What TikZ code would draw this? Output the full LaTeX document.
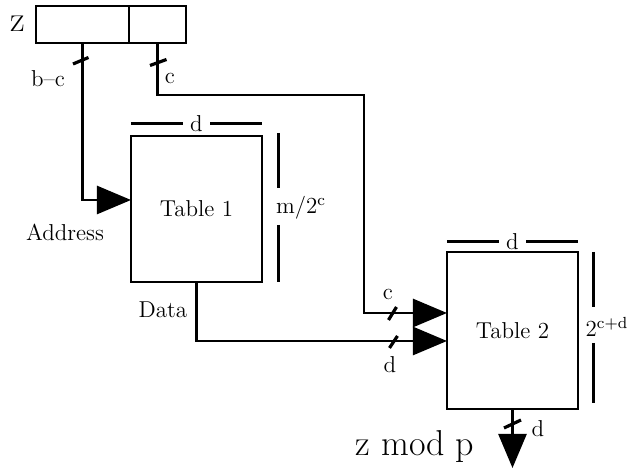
\documentclass[tikz,border=0pt]{standalone}
\usetikzlibrary{arrows.meta,calc}
\newcommand\lbltxt{\fontsize{11.5}{13}\selectfont}
\newcommand\bigtxt{\fontsize{18}{20}\selectfont}
\tikzset{
  box/.style={draw, line width=1.3pt, inner sep=0pt, outer sep=0pt, font=\lbltxt},
  wire/.style={line width=1.3pt},
  tri/.style={-{Triangle[length=17pt,width=14pt]}},
  slashmark/.style={line width=1.6pt},
  dimbar/.style={line width=1.5pt},
  lbl/.style={font=\lbltxt, inner sep=1pt},
  bigl/.style={font=\bigtxt, inner sep=1pt},
  gaplbl/.style={font=\lbltxt, fill=white, inner xsep=3.5pt, inner ysep=0pt},
}
\begin{document}
\begin{tikzpicture}[x=0.5pt,y=-0.5pt]
\useasboundingbox (0,0) rectangle (634,474);
% register z
\node[box, minimum width=46.5pt, minimum height=18.5pt] (zl) at (82.5,24.5) {};
\node[box, minimum width=28.5pt, minimum height=18.5pt] (zr) at (157.5,24.5) {};
\node[bigl] (zlab) at (18,24) {z};
% tables
\node[box, minimum width=65.5pt, minimum height=73pt] (t1) at (196.5,209) {Table 1};
\node[box, minimum width=65.5pt, minimum height=78.5pt] (t2) at (512.5,330.5) {Table 2};
\coordinate (out) at (512.5,468);
% wires
\draw[wire, tri] (zl.south) |- (t1.west |- 0,200);
\draw[wire, tri] (zr.south) |- (364,95) |- (t2.west |- 0,313);
\draw[wire, tri] (t1.south) |- (t2.west |- 0,341);
\draw[wire, tri] (t2.south) -- (out);
% slash marks
\draw[slashmark] (73,64) -- (88.5,57.5);
\draw[slashmark] (150,65.5) -- (166.5,59.5);
\draw[slashmark] (388.5,320) -- (396.5,307);
\draw[slashmark] (389.5,348) -- (397.5,336);
\draw[slashmark] (504,428) -- (521,420);
% dimension bars table 1
\draw[dimbar] ($(t1.north west)+(0,-12)$) -- node[gaplbl]{d} ($(t1.north east)+(0,-12)$);
\draw[dimbar] (279,133) -- (279,188);
\draw[dimbar] (279,225) -- (279,282);
\node[lbl] (t1h) at (301,208) {m/2\textsuperscript{c}};
% dimension bars table 2
\draw[dimbar] ($(t2.north west)+(0,-10)$) -- node[gaplbl]{d} ($(t2.north east)+(0,-10)$);
\draw[dimbar] (594,252) -- (594,307);
\draw[dimbar] (594,343) -- (594,403);
\node[lbl] (t2h) at (607,327) {2\textsuperscript{c+d}};
% labels
\node[lbl] (lbc) at (48,79) {b--c};
\node[lbl] (lc1) at (170,78) {c};
\node[lbl] (laddr) at (65,232) {Address};
\node[lbl] (ldata) at (163,310) {Data};
\node[lbl] (lc2) at (388,294) {c};
\node[lbl] (ld2) at (390,365) {d};
\node[lbl] (ld3) at (538,429) {d};
\node[bigl] (lout) at (415,447) {z mod p};
\end{tikzpicture}
\end{document}
